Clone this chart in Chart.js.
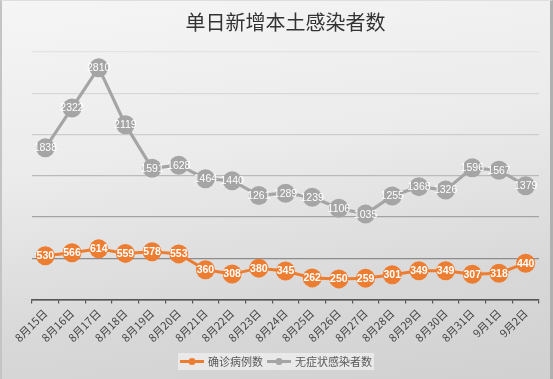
<!DOCTYPE html>
<html>
<head>
<meta charset="utf-8">
<script src="https://cdn.jsdelivr.net/npm/chart.js@4.4.1/dist/chart.umd.min.js"></script>
<style>
  html, body { margin: 0; padding: 0; }
  #wrap {
    position: relative; width: 553px; height: 379px; box-sizing: border-box;
    background: linear-gradient(172deg, #f5f5f5 0%, #ebebeb 40%, #d8d8d8 75%, #d1d1d1 100%);
    border-left: 2px solid #c4c4c4; border-right: 3px solid #b0b0b0; border-top: 1px solid #dedede;
  }
  canvas { position: absolute; left: -2px; top: -1px; }
</style>
</head>
<body>
<div id="wrap"><canvas id="c" width="553" height="379"></canvas></div>
<script>
const categories = ['8月15日','8月16日','8月17日','8月18日','8月19日','8月20日','8月21日','8月22日','8月23日','8月24日','8月25日','8月26日','8月27日','8月28日','8月29日','8月30日','8月31日','9月1日','9月2日'];
const confirmed = [530,566,614,559,578,553,360,308,380,345,262,250,259,301,349,349,307,318,440];
const asymptomatic = [1838,2322,2810,2119,1591,1628,1464,1440,1261,1289,1239,1106,1035,1255,1368,1326,1596,1567,1379];
const seriesNames = ['确诊病例数','无症状感染者数'];
const yTicks = [0,500,1000,1500,2000,2500,3000];

const ORANGE = '#ED7D31';
const GRAY = '#A5A5A5';
const gridColors = ['#555555','#8c8c8c','#a3a3a3','#bababa','#cdcdcd','#d8d8d8','#e2e2e2'];

const valueLabels = {
  id: 'valueLabels',
  afterDatasetsDraw(chart) {
    const ctx = chart.ctx;
    ctx.save();
    ctx.textAlign = 'center';
    ctx.textBaseline = 'middle';
    ctx.fillStyle = '#ffffff';
    chart.data.datasets.forEach((ds, i) => {
      const meta = chart.getDatasetMeta(i);
      ctx.font = (i === 0 ? 'bold ' : '') + '10.5px "Liberation Sans", Arial, sans-serif';
      meta.data.forEach((pt, j) => {
        ctx.fillText(String(ds.data[j]), pt.x, pt.y + 0.5);
      });
    });
    ctx.restore();
  }
};

const customLegend = {
  id: 'customLegend',
  afterDraw(chart) {
    const ctx = chart.ctx;
    ctx.save();
    const cy = 361.5;
    ctx.font = '11px "Noto Sans CJK SC", sans-serif';
    const w0 = ctx.measureText(seriesNames[0]).width;
    const w1 = ctx.measureText(seriesNames[1]).width;
    const sample = 24, gapT = 4, gapI = 4, padX = 2;
    const total = padX + sample + gapT + w0 + gapI + sample + gapT + w1 + padX;
    const x0 = 276 - total / 2;
    ctx.fillStyle = 'rgba(235,235,235,0.9)';
    ctx.fillRect(x0, cy - 8.5, total, 17);
    let x = x0 + padX;
    const colors = [ORANGE, GRAY];
    const widths = [w0, w1];
    for (let i = 0; i < 2; i++) {
      ctx.strokeStyle = colors[i];
      ctx.lineWidth = 3;
      ctx.beginPath(); ctx.moveTo(x, cy); ctx.lineTo(x + sample, cy); ctx.stroke();
      ctx.fillStyle = colors[i];
      ctx.beginPath(); ctx.arc(x + sample / 2, cy, 3.5, 0, Math.PI * 2); ctx.fill();
      x += sample + gapT;
      ctx.fillStyle = '#595959';
      ctx.textAlign = 'left';
      ctx.textBaseline = 'middle';
      ctx.fillText(seriesNames[i], x, cy);
      x += widths[i] + gapI;
    }
    ctx.restore();
  }
};

new Chart(document.getElementById('c'), {
  type: 'line',
  data: {
    labels: categories,
    datasets: [
      { label: seriesNames[0], data: confirmed, borderColor: ORANGE, backgroundColor: ORANGE,
        borderWidth: 3, pointRadius: 9.5, pointHoverRadius: 9.5, pointBorderWidth: 0, tension: 0, clip: false },
      { label: seriesNames[1], data: asymptomatic, borderColor: GRAY, backgroundColor: GRAY,
        borderWidth: 3.2, pointRadius: 9.5, pointHoverRadius: 9.5, pointBorderWidth: 0, tension: 0, clip: false }
    ]
  },
  options: {
    responsive: false,
    animation: false,
    devicePixelRatio: 1,
    layout: { padding: { left: 32, right: 14, top: 0, bottom: 33 } },
    plugins: {
      legend: { display: false },
      tooltip: { enabled: false },
      title: {
        display: true,
        text: '单日新增本土感染者数',
        color: '#333333',
        font: { family: '"Noto Sans CJK SC", sans-serif', size: 20, weight: 'normal' },
        padding: { top: 10.5, bottom: 17.5 }
      }
    },
    scales: {
      x: {
        offset: true,
        grid: { offset: true, drawOnChartArea: false, drawTicks: true, tickLength: 4, color: '#555555', lineWidth: 1.2 },
        border: { display: true, color: '#555555', width: 1.5 },
        ticks: {
          autoSkip: false, maxRotation: 45, minRotation: 45, padding: 3,
          color: '#444444',
          font: { family: '"Noto Sans CJK SC", sans-serif', size: 11 }
        },
        afterFit(scale) { scale.height = 46.5; }
      },
      y: {
        min: 0, max: 3000,
        afterBuildTicks(scale) { scale.ticks = yTicks.map(v => ({ value: v })); },
        ticks: { display: false },
        border: { display: false },
        grid: {
          drawTicks: false, tickLength: 0, lineWidth: 1.2,
          color: (c) => gridColors[c.index] || '#cccccc'
        },
        afterFit(scale) { scale.width = 0; }
      }
    }
  },
  plugins: [valueLabels, customLegend]
});
</script>
</body>
</html>
